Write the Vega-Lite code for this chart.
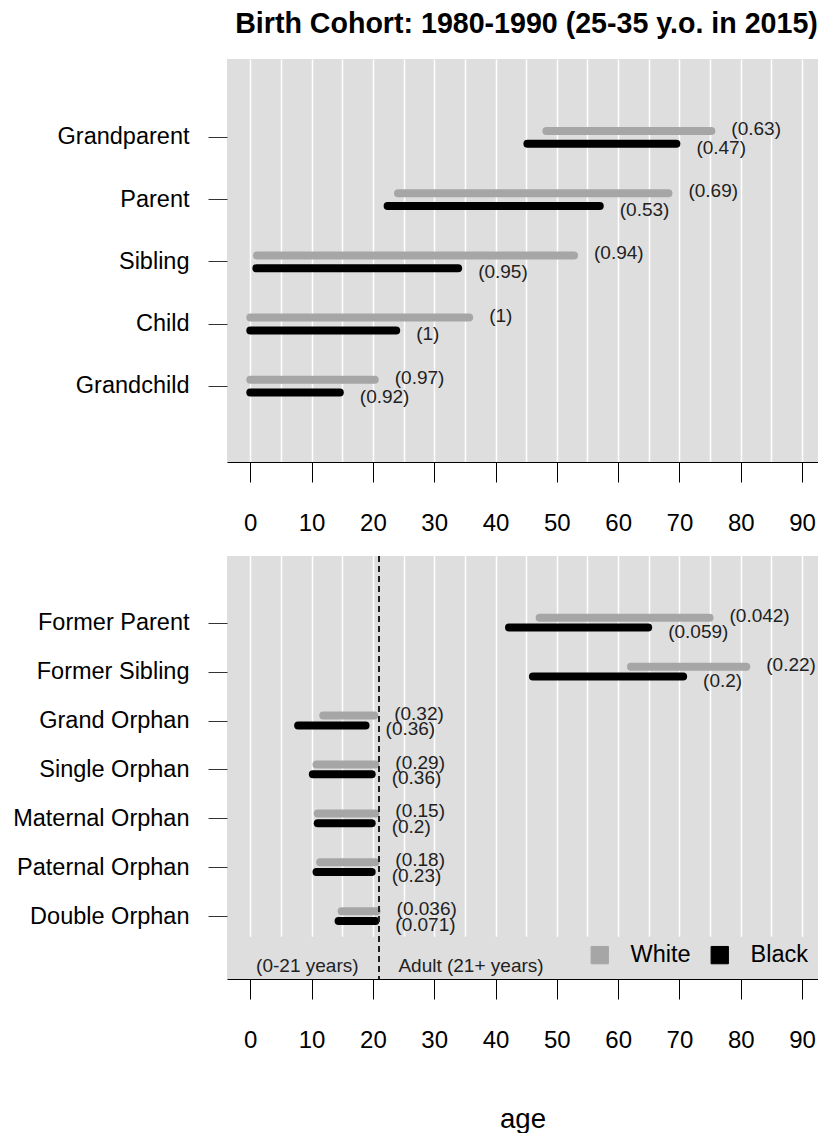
{
  "$schema": "https://vega.github.io/schema/vega-lite/v6.json",
  "padding": {"left": 12, "top": 10, "right": 0, "bottom": 0},
  "config": {
    "font": "Liberation Sans",
    "view": {"fill": "#dedede", "stroke": null},
    "axis": {"labelColor": "#000000", "tickColor": "#333333", "domainColor": "#333333", "titleColor": "#000000"}
  },
  "datasets": {
    "top": [
      {"relation": "Grandparent", "race": "White", "start": 48.3, "end": 75.2, "label": "(0.63)"},
      {"relation": "Grandparent", "race": "Black", "start": 45.2, "end": 69.5, "label": "(0.47)"},
      {"relation": "Parent", "race": "White", "start": 24.1, "end": 68.2, "label": "(0.69)"},
      {"relation": "Parent", "race": "Black", "start": 22.4, "end": 57.0, "label": "(0.53)"},
      {"relation": "Sibling", "race": "White", "start": 1.1, "end": 52.8, "label": "(0.94)"},
      {"relation": "Sibling", "race": "Black", "start": 1.0, "end": 33.9, "label": "(0.95)"},
      {"relation": "Child", "race": "White", "start": 0, "end": 35.7, "label": "(1)"},
      {"relation": "Child", "race": "Black", "start": 0, "end": 23.8, "label": "(1)"},
      {"relation": "Grandchild", "race": "White", "start": 0, "end": 20.3, "label": "(0.97)"},
      {"relation": "Grandchild", "race": "Black", "start": 0, "end": 14.6, "label": "(0.92)"}
    ],
    "bottom": [
      {"relation": "Former Parent", "race": "White", "start": 47.2, "end": 74.9, "label": "(0.042)"},
      {"relation": "Former Parent", "race": "Black", "start": 42.2, "end": 64.9, "label": "(0.059)"},
      {"relation": "Former Sibling", "race": "White", "start": 62.1, "end": 80.9, "label": "(0.22)"},
      {"relation": "Former Sibling", "race": "Black", "start": 46.1, "end": 70.6, "label": "(0.2)"},
      {"relation": "Grand Orphan", "race": "White", "start": 11.9, "end": 20.2, "label": "(0.32)"},
      {"relation": "Grand Orphan", "race": "Black", "start": 7.8, "end": 18.8, "label": "(0.36)"},
      {"relation": "Single Orphan", "race": "White", "start": 10.8, "end": 20.4, "label": "(0.29)"},
      {"relation": "Single Orphan", "race": "Black", "start": 10.2, "end": 19.8, "label": "(0.36)"},
      {"relation": "Maternal Orphan", "race": "White", "start": 11.0, "end": 20.4, "label": "(0.15)"},
      {"relation": "Maternal Orphan", "race": "Black", "start": 11.0, "end": 19.8, "label": "(0.2)"},
      {"relation": "Paternal Orphan", "race": "White", "start": 11.4, "end": 20.4, "label": "(0.18)"},
      {"relation": "Paternal Orphan", "race": "Black", "start": 10.8, "end": 19.8, "label": "(0.23)"},
      {"relation": "Double Orphan", "race": "White", "start": 14.9, "end": 20.6, "label": "(0.036)"},
      {"relation": "Double Orphan", "race": "Black", "start": 14.4, "end": 20.4, "label": "(0.071)"}
    ],
    "notes": [
      {"relation": "annot", "x": 9.3, "text": "(0-21 years)"},
      {"relation": "annot", "x": 36, "text": "Adult (21+ years)"}
    ]
  },
  "spacing": 20,
  "resolve": {
    "scale": {"y": "independent", "yOffset": "independent"}
  },
  "vconcat": [
    {
      "width": 591,
      "height": 403,
      "title": {"text": "Birth Cohort: 1980-1990 (25-35 y.o. in 2015)", "fontSize": 28.6, "fontWeight": "bold", "color": "#000000", "anchor": "middle", "baseline": "alphabetic", "offset": -3, "dx": 4},
      "data": {"name": "top"},
      "resolve": {"axis": {"x": "independent"}},
      "layer": [
        {
          "mark": {"type": "rule", "strokeWidth": 8, "strokeCap": "round"},
          "encoding": {
            "x": {"field": "start", "type": "quantitative", "scale": {"domain": [-3.8, 92.6], "nice": false, "zero": false},
                  "axis": {"orient": "bottom", "values": [0,5,10,15,20,25,30,35,40,45,50,55,60,65,70,75,80,85,90], "grid": true, "gridColor": "#ffffff", "gridWidth": 1.5, "gridOpacity": 1, "labels": false, "ticks": false, "domain": false, "title": null}},
            "x2": {"field": "end"},
            "y": {"field": "relation", "type": "nominal", "sort": ["Grandparent", "Parent", "Sibling", "Child", "Grandchild"],
                  "scale": {"paddingInner": 0, "paddingOuter": 0.74, "align": 0.515},
                  "axis": {"title": null, "domain": false, "ticks": true, "tickSize": 19, "labelFontSize": 23.5, "labelPadding": 19, "grid": false}},
            "yOffset": {"field": "race", "type": "nominal", "scale": {"type": "point", "domain": ["White", "Black"], "range": [24.6, 37.4], "padding": 0}},
            "color": {"field": "race", "type": "nominal", "scale": {"domain": ["White", "Black"], "range": ["#a6a6a6", "#000000"]}}
          }
        },
        {
          "transform": [{"filter": "datum.race == 'White'"}],
          "mark": {"type": "text", "align": "left", "baseline": "middle", "dx": 20, "dy": -2, "fontSize": 19, "color": "#222222"},
          "encoding": {
            "x": {"field": "end", "type": "quantitative",
                  "axis": {"orient": "bottom", "values": [0,10,20,30,40,50,60,70,80,90], "grid": false, "tickSize": 20, "tickColor": "#000000", "domainColor": "#000000", "labelFontSize": 24, "labelPadding": 29, "labelFlush": false, "title": null}},
            "y": {"field": "relation", "type": "nominal", "sort": ["Grandparent", "Parent", "Sibling", "Child", "Grandchild"]},
            "yOffset": {"field": "race", "type": "nominal"},
            "text": {"field": "label"}
          }
        },
        {
          "transform": [{"filter": "datum.race == 'Black'"}],
          "mark": {"type": "text", "align": "left", "baseline": "middle", "dx": 20, "dy": 4, "fontSize": 19, "color": "#222222"},
          "encoding": {
            "x": {"field": "end", "type": "quantitative", "axis": null},
            "y": {"field": "relation", "type": "nominal", "sort": ["Grandparent", "Parent", "Sibling", "Child", "Grandchild"]},
            "yOffset": {"field": "race", "type": "nominal"},
            "text": {"field": "label"}
          }
        }
      ]
    },
    {
      "width": 591,
      "height": 423,
      "data": {"name": "bottom"},
      "resolve": {"axis": {"x": "independent"}},
      "layer": [
        {
          "mark": {"type": "rule", "strokeWidth": 8, "strokeCap": "round"},
          "encoding": {
            "x": {"field": "start", "type": "quantitative", "scale": {"domain": [-3.8, 92.6], "nice": false, "zero": false},
                  "axis": {"orient": "bottom", "values": [0,5,10,15,20,25,30,35,40,45,50,55,60,65,70,75,80,85,90], "grid": true, "gridColor": "#ffffff", "gridWidth": 1.5, "gridOpacity": 1, "labels": false, "ticks": false, "domain": false, "title": null}},
            "x2": {"field": "end"},
            "y": {"field": "relation", "type": "nominal",
                  "scale": {"domain": ["Former Parent", "Former Sibling", "Grand Orphan", "Single Orphan", "Maternal Orphan", "Paternal Orphan", "Double Orphan", "annot"], "range": [42.85, 434.05], "paddingInner": 0, "paddingOuter": 0},
                  "axis": {"title": null, "values": ["Former Parent", "Former Sibling", "Grand Orphan", "Single Orphan", "Maternal Orphan", "Paternal Orphan", "Double Orphan"], "domain": false, "ticks": true, "tickSize": 19, "labelFontSize": 23.5, "labelPadding": 19, "grid": false}},
            "yOffset": {"field": "race", "type": "nominal", "scale": {"type": "point", "domain": ["White", "Black"], "range": [18.95, 28.75], "padding": 0}},
            "color": {"field": "race", "type": "nominal", "scale": {"domain": ["White", "Black"], "range": ["#a6a6a6", "#000000"]},
                      "legend": {"orient": "none", "legendX": 361, "legendY": 884, "direction": "horizontal", "title": null, "symbolType": "square", "symbolSize": 300, "symbolStrokeColor": "#000000", "symbolStrokeWidth": 1, "labelFontSize": 23.5, "labelColor": "#000000", "labelOffset": 19, "columnPadding": 17, "padding": 0,
                                 "encode": {"symbols": {"update": {"fill": {"scale": "color", "field": "value"}, "stroke": {"value": "#000000"}, "strokeWidth": {"value": 1}, "opacity": {"value": 1}, "fillOpacity": {"value": 1}}}}}}
          }
        },
        {
          "transform": [{"filter": "datum.race == 'White'"}],
          "mark": {"type": "text", "align": "left", "baseline": "middle", "dx": 20, "dy": -2, "fontSize": 19, "color": "#222222"},
          "encoding": {
            "x": {"field": "end", "type": "quantitative",
                  "axis": {"orient": "bottom", "values": [0,10,20,30,40,50,60,70,80,90], "grid": false, "tickSize": 20, "tickColor": "#000000", "domainColor": "#000000", "labelFontSize": 24, "labelPadding": 29, "labelFlush": false, "title": "age", "titleFontSize": 27.6, "titleFontWeight": "normal", "titlePadding": 53}},
            "y": {"field": "relation", "type": "nominal"},
            "yOffset": {"field": "race", "type": "nominal"},
            "text": {"field": "label"}
          }
        },
        {
          "transform": [{"filter": "datum.race == 'Black'"}],
          "mark": {"type": "text", "align": "left", "baseline": "middle", "dx": 20, "dy": 4, "fontSize": 19, "color": "#222222"},
          "encoding": {
            "x": {"field": "end", "type": "quantitative", "axis": null},
            "y": {"field": "relation", "type": "nominal"},
            "yOffset": {"field": "race", "type": "nominal"},
            "text": {"field": "label"}
          }
        },
        {
          "mark": {"type": "rule", "strokeDash": [6, 4], "strokeWidth": 1, "color": "#222222"},
          "encoding": {"x": {"datum": 21, "type": "quantitative", "axis": null}}
        },
        {
          "data": {"name": "notes"},
          "mark": {"type": "text", "align": "center", "baseline": "middle", "fontSize": 19, "color": "#222222"},
          "encoding": {
            "x": {"field": "x", "type": "quantitative", "axis": null},
            "y": {"field": "relation", "type": "nominal"},
            "text": {"field": "text"}
          }
        }
      ]
    }
  ]
}
